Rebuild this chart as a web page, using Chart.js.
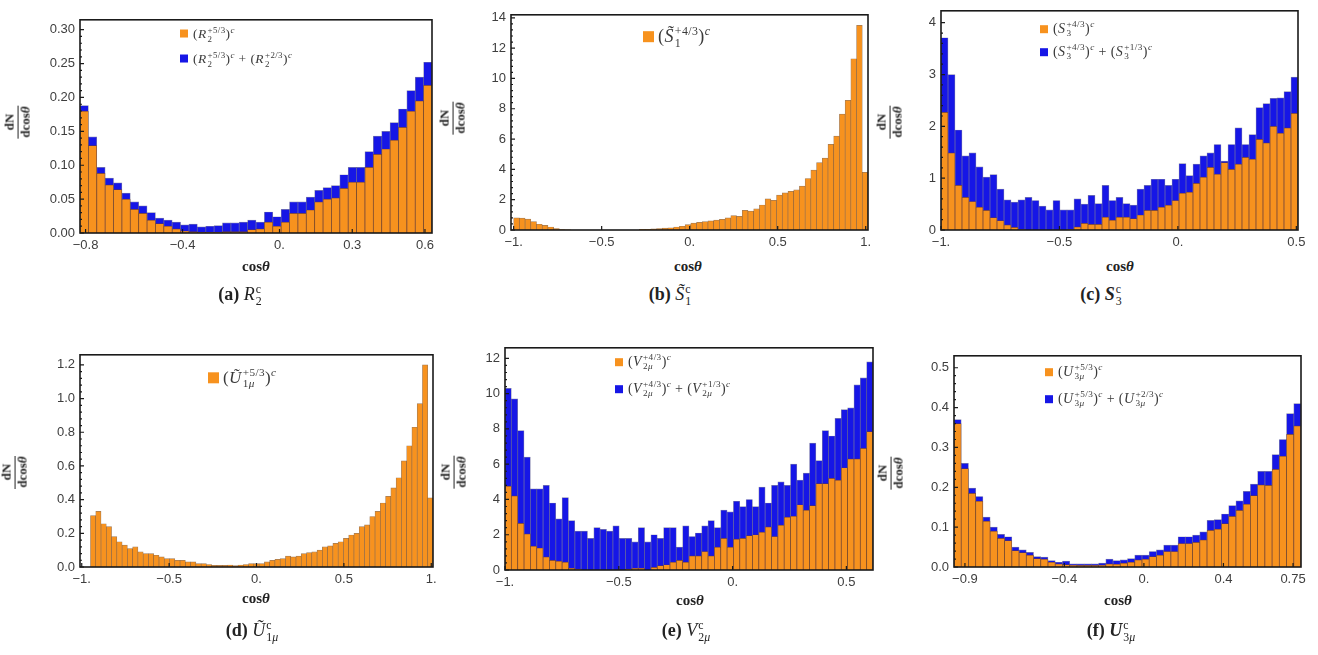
<!DOCTYPE html>
<html>
<head>
<meta charset="utf-8">
<script src="https://cdn.jsdelivr.net/npm/chart.js@4.4.0/dist/chart.umd.min.js"></script>
<style>
  body { margin: 0; background: #fff; }
  #page { position: relative; width: 1318px; height: 655px; overflow: hidden; }
  canvas { position: absolute; }
  .ov { position: absolute; white-space: nowrap; color: #222; font-family: 'Liberation Serif', serif; }
  .ss { display: inline-flex; flex-direction: column; vertical-align: 0.6em; font-size: 0.66em; line-height: 1.0; margin-left: 1px; }
  .ov sup { font-size: 0.66em; }
  .cap { font-size: 18px; }
  .xt { font-size: 15px; font-weight: bold; }
  .yt { font-size: 13px; font-weight: bold; display: inline-flex; flex-direction: column; align-items: stretch; text-align: center; line-height: 1.15; }
  .yt .den { border-top: 1.3px solid #222; padding: 0 1px; }
  .lg { color: #3a3a3a; display: flex; align-items: center; letter-spacing: 0.4px; }
  .sq { display: inline-block; width: 8px; height: 8px; margin-right: 5px; }
  .big .sq { width: 11px; height: 11px; margin-right: 4px; }
</style>
</head>
<body>
<div id="page"></div>
<script>
// (a) R2
const aOrange = [0.18, 0.129, 0.088, 0.071, 0.064, 0.05, 0.035, 0.029, 0.019, 0.014, 0.01, 0.006, 0.003, 0.002, 0.001, 0.001, 0.001, 0.002, 0.002, 0.002, 0.005, 0.006, 0.016, 0.01, 0.016, 0.029, 0.029, 0.034, 0.046, 0.05, 0.052, 0.066, 0.075, 0.075, 0.097, 0.116, 0.124, 0.137, 0.156, 0.18, 0.195, 0.218];
const aTotal = [0.188, 0.142, 0.097, 0.081, 0.074, 0.059, 0.046, 0.04, 0.03, 0.022, 0.019, 0.016, 0.012, 0.013, 0.009, 0.01, 0.011, 0.015, 0.015, 0.016, 0.019, 0.016, 0.031, 0.024, 0.035, 0.046, 0.046, 0.053, 0.063, 0.067, 0.07, 0.086, 0.097, 0.097, 0.12, 0.143, 0.15, 0.163, 0.183, 0.21, 0.23, 0.252];
const aBins = [-0.823, 0.629];
const aXTicks = [-0.8, -0.4, 0, 0.3, 0.6];
const aXLabels = ['−0.8', '−0.4', '0.', '0.3', '0.6'];
const aYTicks = [0, 0.05, 0.1, 0.15, 0.2, 0.25, 0.3];
const aYLabels = ['0.00', '0.05', '0.10', '0.15', '0.20', '0.25', '0.30'];

// (b) S1 tilde
const bOrange = [0.8, 0.78, 0.72, 0.55, 0.38, 0.3, 0.2, 0.1,
  0.03, 0.01, 0, 0, 0, 0, 0, 0, 0, 0, 0, 0, 0, 0,
  0.05, 0.05, 0.08, 0.1, 0.12, 0.15, 0.2, 0.25,
  0.35, 0.45, 0.5, 0.55, 0.6, 0.65, 0.7, 0.8, 0.95, 0.9, 1.3, 1.25, 1.4, 1.65,
  2.05, 1.95, 2.3, 2.45, 2.55, 2.65, 2.9, 3.4, 3.95, 4.45, 4.75, 5.65, 6.2, 7.65, 8.55, 11.3, 13.5, 3.8];
const bBins = [-1.0, 1.013];
const bXTicks = [-1, -0.5, 0, 0.5, 1];
const bXLabels = ['−1.', '−0.5', '0.', '0.5', '1.'];
const bYTicks = [0, 2, 4, 6, 8, 10, 12, 14];
const bYLabels = ['0', '2', '4', '6', '8', '10', '12', '14'];

// (c) S3
const cOrange = [2.27, 1.49, 0.86, 0.63, 0.55, 0.44, 0.38, 0.24, 0.18, 0.1, 0.05, 0.01, 0, 0, 0, 0, 0, 0, 0.01, 0.06, 0.13, 0.11, 0.11, 0.25, 0.19, 0.25, 0.25, 0.22, 0.29, 0.38, 0.38, 0.44, 0.48, 0.57, 0.71, 0.73, 0.9, 1.02, 1.21, 1.08, 1.3, 1.17, 1.27, 1.4, 1.37, 1.75, 1.68, 2.0, 1.87, 1.97, 2.25];
const cTotal = [3.71, 3.0, 1.93, 1.43, 1.49, 1.22, 1.02, 1.07, 0.79, 0.58, 0.54, 0.58, 0.63, 0.57, 0.46, 0.39, 0.57, 0.39, 0.39, 0.6, 0.5, 0.67, 0.51, 0.86, 0.57, 0.63, 0.51, 0.48, 0.79, 0.86, 0.98, 0.98, 0.86, 0.98, 1.28, 1.05, 1.27, 1.43, 1.49, 1.65, 1.33, 1.65, 1.97, 1.65, 1.84, 2.36, 2.44, 2.54, 2.55, 2.67, 2.95];
const cBins = [-1.0, 0.507];
const cXTicks = [-1, -0.5, 0, 0.5];
const cXLabels = ['−1.', '−0.5', '0.', '0.5'];
const cYTicks = [0, 1, 2, 3, 4];
const cYLabels = ['0', '1', '2', '3', '4'];

// (d) U1mu tilde
const dOrange = [0.305, 0.33, 0.257, 0.24, 0.18, 0.15, 0.13, 0.11, 0.12, 0.09,
  0.08, 0.08, 0.07, 0.06, 0.05, 0.05, 0.04, 0.04, 0.03, 0.03,
  0.02, 0.02, 0.015, 0.01, 0.01, 0.01, 0.012, 0.008, 0.012, 0.015,
  0.02, 0.02, 0.02, 0.03, 0.04, 0.045, 0.05, 0.065, 0.06, 0.065,
  0.08, 0.085, 0.09, 0.1, 0.12, 0.125, 0.14, 0.15, 0.17, 0.19,
  0.2, 0.24, 0.25, 0.3, 0.33, 0.38, 0.42, 0.47, 0.53, 0.63,
  0.72, 0.83, 0.97, 1.2, 0.41];
const dBins = [-0.95, 1.01];
const dXTicks = [-1, -0.5, 0, 0.5, 1];
const dXLabels = ['−1.', '−0.5', '0.', '0.5', '1.'];
const dYTicks = [0, 0.2, 0.4, 0.6, 0.8, 1.0, 1.2];
const dYLabels = ['0.0', '0.2', '0.4', '0.6', '0.8', '1.0', '1.2'];

// (e) V2mu
const eOrange = [4.75, 4.2, 2.65, 2.05, 1.35, 1.25, 0.75, 0.55, 0.5, 0.45, 0.1, 0.05, 0, 0, 0, 0, 0, 0, 0, 0.05, 0.1, 0.1, 0, 0.15, 0.25, 0.3, 0.45, 0.55, 0.45, 0.8, 0.8, 1.05, 0.8, 1.3, 1.8, 1.3, 1.75, 1.8, 1.95, 2.0, 2.15, 2.45, 1.9, 2.55, 3.0, 3.05, 3.7, 3.4, 3.65, 4.9, 4.9, 5.2, 5.1, 5.8, 6.3, 6.3, 6.9, 7.85];
const eTotal = [10.3, 9.7, 7.9, 6.4, 4.6, 4.6, 4.8, 3.8, 2.9, 4.1, 2.8, 2.2, 2.2, 1.8, 2.4, 2.3, 2.2, 2.5, 1.8, 1.8, 1.6, 2.4, 1.6, 2.0, 1.8, 2.4, 2.4, 1.3, 2.5, 1.9, 2.1, 2.5, 2.8, 2.4, 3.4, 3.3, 3.9, 3.6, 4.0, 3.6, 4.7, 3.8, 4.8, 5.0, 4.8, 6.0, 5.1, 5.5, 7.2, 6.2, 7.9, 7.6, 8.6, 9.1, 9.2, 10.5, 10.9, 11.8];
const eBins = [-1.0, 0.617];
const eXTicks = [-1, -0.5, 0, 0.5];
const eXLabels = ['−1.', '−0.5', '0.', '0.5'];
const eYTicks = [0, 2, 4, 6, 8, 10, 12];
const eYLabels = ['0', '2', '4', '6', '8', '10', '12'];

// (f) U3mu
const fOrange = [0.36, 0.247, 0.185, 0.165, 0.115, 0.09, 0.072, 0.066, 0.041, 0.036, 0.03, 0.021, 0.02, 0.012, 0.008, 0.006, 0.005, 0.004, 0.004, 0.004, 0.005, 0.008, 0.007, 0.01, 0.012, 0.018, 0.02, 0.026, 0.03, 0.039, 0.039, 0.059, 0.059, 0.062, 0.068, 0.092, 0.095, 0.109, 0.127, 0.142, 0.158, 0.179, 0.206, 0.205, 0.245, 0.278, 0.333, 0.354];
const fTotal = [0.37, 0.26, 0.198, 0.177, 0.125, 0.1, 0.082, 0.076, 0.05, 0.043, 0.037, 0.026, 0.025, 0.016, 0.012, 0.015, 0.008, 0.008, 0.008, 0.008, 0.01, 0.02, 0.016, 0.018, 0.021, 0.03, 0.03, 0.039, 0.043, 0.055, 0.055, 0.076, 0.076, 0.08, 0.088, 0.117, 0.119, 0.133, 0.154, 0.166, 0.19, 0.208, 0.24, 0.24, 0.282, 0.32, 0.385, 0.41];
const fBins = [-0.955, 0.79];
const fXTicks = [-0.9, -0.4, 0, 0.4, 0.75];
const fXLabels = ['−0.9', '−0.4', '0.', '0.4', '0.75'];
const fYTicks = [0, 0.1, 0.2, 0.3, 0.4, 0.5];
const fYLabels = ['0.0', '0.1', '0.2', '0.3', '0.4', '0.5'];

const ORANGE = '#F7921E';
const BLUE = '#1616E6';

// math text helpers
function ss(sup, sub) {
  return `<span class="ss"><span>${sup}</span><span>${sub}</span></span>`;
}
const sc = '<sup><i>c</i></sup>';
const plus = '&nbsp;+&nbsp;';
function term(base, charge, sub) {
  return `(<i>${base}</i>${ss(charge, sub)})${sc}`;
}
const mu = (n) => `${n}<i>μ</i>`;

const panels = [
  { orange: aOrange, total: aTotal, bins: aBins, xTicks: aXTicks, xLabels: aXLabels, yTicks: aYTicks, yLabels: aYLabels,
    x: [-0.823, 0.629], yMax: 0.3146, plot: [80, 17, 432, 233],
    legend: [term('R', '+5/3', '2'), term('R', '+5/3', '2') + plus + term('R', '+2/3', '2')],
    lgPos: [180, 34, 25], lgSize: 13.5, big: false, ytPos: [18, 122], xtPos: [256, 266], capPos: [240, 296],
    caption: `<b>(a)</b> <i>R</i>${ss('c', '2')}` },
  { orange: bOrange, total: null, bins: bBins, xTicks: bXTicks, xLabels: bXLabels, yTicks: bYTicks, yLabels: bYLabels,
    x: [-1.015, 1.013], yMax: 14.2, plot: [511, 12, 868, 230],
    legend: [term('S\u0303', '+4/3', '1')],
    lgPos: [643, 37, 0], lgSize: 18, big: true, ytPos: [453, 118], xtPos: [688, 266], capPos: [670, 296],
    caption: `<b>(b)</b> <i>S\u0303</i>${ss('c', '1')}` },
  { orange: cOrange, total: cTotal, bins: cBins, xTicks: cXTicks, xLabels: cXLabels, yTicks: cYTicks, yLabels: cYLabels,
    x: [-1.0, 0.507], yMax: 4.23, plot: [941, 8, 1298, 230],
    legend: [term('S', '+4/3', '3'), term('S', '+4/3', '3') + plus + term('S', '+1/3', '3')],
    lgPos: [1040, 29, 23], lgSize: 14, big: false, ytPos: [890, 122], xtPos: [1120, 266], capPos: [1101, 296],
    caption: `<b>(c)</b> <b><i>S</i></b>${ss('c', '3')}` },
  { orange: dOrange, total: null, bins: dBins, xTicks: dXTicks, xLabels: dXLabels, yTicks: dYTicks, yLabels: dYLabels,
    x: [-1.01, 1.01], yMax: 1.26, plot: [80, 352, 433, 567],
    legend: [term('U\u0303', '+5/3', mu(1))],
    lgPos: [208, 378, 0], lgSize: 17, big: true, ytPos: [15, 472], xtPos: [256, 598], capPos: [252, 632],
    caption: `<b>(d)</b> <i>U\u0303</i>${ss('c', mu(1))}` },
  { orange: eOrange, total: eTotal, bins: eBins, xTicks: eXTicks, xLabels: eXLabels, yTicks: eYTicks, yLabels: eYLabels,
    x: [-1.0, 0.617], yMax: 12.6, plot: [505, 345, 873, 570],
    legend: [term('V', '+4/3', mu(2)), term('V', '+4/3', mu(2)) + plus + term('V', '+1/3', mu(2))],
    lgPos: [615, 362, 27], lgSize: 14, big: false, ytPos: [454, 472], xtPos: [690, 600], capPos: [686, 632],
    caption: `<b>(e)</b> <i>V</i>${ss('c', mu(2))}` },
  { orange: fOrange, total: fTotal, bins: fBins, xTicks: fXTicks, xLabels: fXLabels, yTicks: fYTicks, yLabels: fYLabels,
    x: [-0.955, 0.79], yMax: 0.53, plot: [954, 353, 1301, 567],
    legend: [term('U', '+5/3', mu(3)), term('U', '+5/3', mu(3)) + plus + term('U', '+2/3', mu(3))],
    lgPos: [1045, 372, 27], lgSize: 14, big: false, ytPos: [891, 473], xtPos: [1118, 600], capPos: [1111, 632],
    caption: `<b>(f)</b> <b><i>U</i></b>${ss('c', mu(3))}` },
];

Chart.defaults.font.family = "'Liberation Sans', Arial, sans-serif";
Chart.defaults.font.size = 13;
Chart.defaults.color = '#3e3e3e';

// frame with inward ticks, like the Mathematica plots
const framePlugin = {
  id: 'frame',
  afterDatasetsDraw(chart) {
    const { ctx, chartArea: a, scales } = chart;
    ctx.save();
    ctx.strokeStyle = '#1a1a1a';
    ctx.lineWidth = 1.2;
    ctx.beginPath();
    scales.x.ticks.forEach((t) => {
      const px = scales.x.getPixelForValue(t.value);
      ctx.moveTo(px, a.bottom);
      ctx.lineTo(px, a.bottom - 4);
    });
    const yt = scales.y.ticks;
    yt.forEach((t, i) => {
      const py = scales.y.getPixelForValue(t.value);
      ctx.moveTo(a.left, py);
      ctx.lineTo(a.left + 4, py);
      if (i < yt.length - 1) {
        const d = (yt[i + 1].value - t.value) / 5;
        for (let k = 1; k < 5; k++) {
          const my = scales.y.getPixelForValue(t.value + d * k);
          ctx.moveTo(a.left, my);
          ctx.lineTo(a.left + 2, my);
        }
      }
    });
    ctx.stroke();
    ctx.lineWidth = 1.6;
    ctx.strokeRect(a.left, a.top, a.right - a.left, a.bottom - a.top);
    ctx.restore();
  },
};

const page = document.getElementById('page');
function addText(html, x, y, cls, transform) {
  const d = document.createElement('div');
  d.className = 'ov ' + cls;
  d.innerHTML = html;
  d.style.left = x + 'px';
  d.style.top = y + 'px';
  d.style.transform = transform || 'translate(-50%,-50%)';
  page.appendChild(d);
  return d;
}

const M = { l: 50, r: 20, t: 10, b: 26 };

panels.forEach((p) => {
  const [x0, y0, x1, y1] = p.plot;
  const w = x1 - x0 + M.l + M.r;
  const h = y1 - y0 + M.t + M.b;
  const cv = document.createElement('canvas');
  cv.width = w;
  cv.height = h;
  cv.style.width = w + 'px';
  cv.style.height = h + 'px';
  cv.style.left = (x0 - M.l) + 'px';
  cv.style.top = (y0 - M.t) + 'px';
  page.appendChild(cv);

  const step = (p.bins[1] - p.bins[0]) / p.orange.length;
  const toPoints = (arr) => arr.map((v, i) => ({ x: p.bins[0] + (i + 0.5) * step, y: v }));
  const barStyle = { barPercentage: 1, categoryPercentage: 1, grouped: false, borderWidth: 0.7 };
  const datasets = [
    { label: 'orange', data: toPoints(p.orange), backgroundColor: ORANGE, borderColor: 'rgba(120,65,15,0.7)', ...barStyle },
  ];
  if (p.total) {
    datasets.push({ label: 'total', data: toPoints(p.total), backgroundColor: BLUE, borderColor: 'rgba(0,0,90,0.5)', ...barStyle });
  }

  new Chart(cv, {
    type: 'bar',
    data: { datasets: datasets },
    options: {
      responsive: false,
      animation: false,
      devicePixelRatio: 1,
      layout: { padding: { left: 0, top: M.t, right: M.r, bottom: 0 }, autoPadding: false },
      plugins: { legend: { display: false }, tooltip: { enabled: false } },
      scales: {
        x: {
          type: 'linear',
          min: p.x[0],
          max: p.x[1],
          bounds: 'data',
          offset: false,
          grid: { display: false, drawTicks: false },
          border: { display: false },
          ticks: { autoSkip: false, maxRotation: 0, padding: 5, callback: (v, i) => p.xLabels[i] },
          afterBuildTicks: (axis) => { axis.ticks = p.xTicks.map((v) => ({ value: v })); },
          afterFit: (axis) => { axis.height = M.b; },
        },
        y: {
          min: 0,
          max: p.yMax,
          bounds: 'data',
          grid: { display: false, drawTicks: false },
          border: { display: false },
          ticks: { autoSkip: false, padding: 5, callback: (v, i) => p.yLabels[i] },
          afterBuildTicks: (axis) => { axis.ticks = p.yTicks.map((v) => ({ value: v })); },
          afterFit: (axis) => { axis.width = M.l; },
        },
      },
    },
    plugins: [framePlugin],
  });

  // legend
  const colors = [ORANGE, BLUE];
  p.legend.forEach((txt, i) => {
    const row = addText(`<span class="sq" style="background:${colors[i]}"></span><span>${txt}</span>`,
      p.lgPos[0], p.lgPos[1] + i * p.lgPos[2], 'lg' + (p.big ? ' big' : ''), 'translateY(-50%)');
    row.style.fontSize = p.lgSize + 'px';
  });
  // axis titles and caption
  addText('<span>dN</span><span class="den">dcos<i>θ</i></span>', p.ytPos[0], p.ytPos[1], 'yt', 'translate(-50%,-50%) rotate(-90deg)');
  addText('cos<i>θ</i>', p.xtPos[0], p.xtPos[1], 'xt');
  addText(p.caption, p.capPos[0], p.capPos[1], 'cap');
});
</script>
</body>
</html>
